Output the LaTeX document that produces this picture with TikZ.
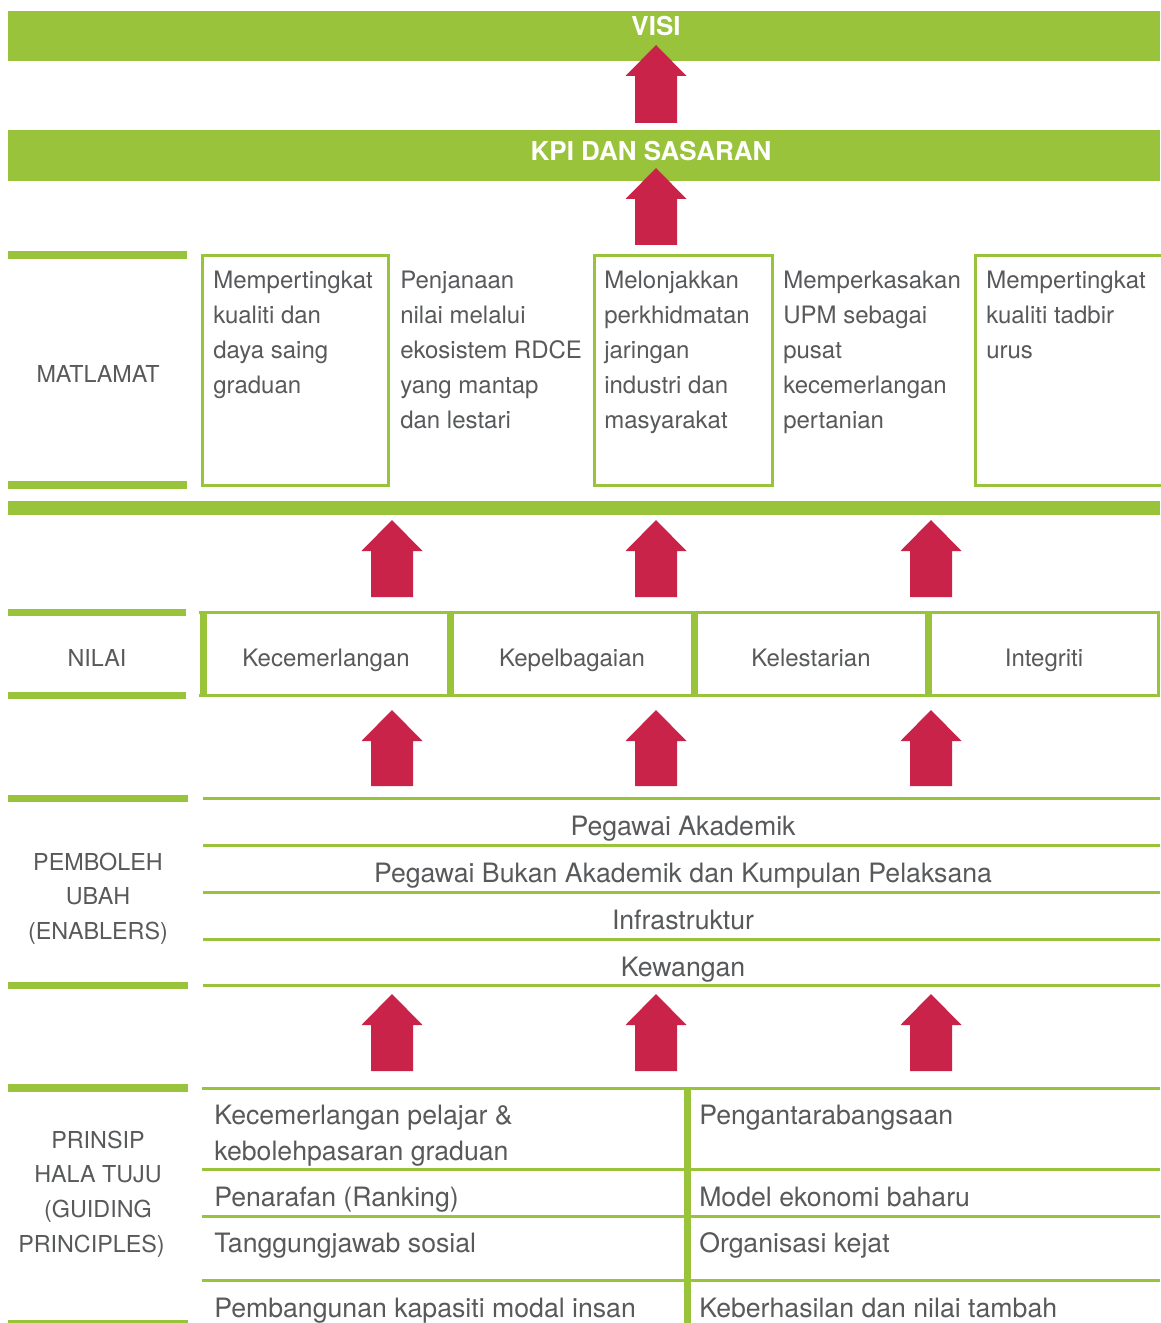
\documentclass[tikz,border=0pt]{standalone}
\usepackage{fontspec}
\setmainfont{TeX Gyre Heros}
\definecolor{lgreen}{HTML}{9AC33C}
\definecolor{tgray}{HTML}{58595B}
\definecolor{ared}{HTML}{C9234A}
\newcommand\blockup[3]{\fill[ared] (#1,#2) -- ++(30.5,31) -- ++(-9.5,0) -- ({#1+21},#3) -- ({#1-21},#3) -- ({#1-21},{#2+31}) -- ++(-9.5,0) -- cycle;}
\begin{document}
\begin{tikzpicture}[x=0.75pt,y=-0.75pt,
  bar/.style={fill=lgreen},
  gline/.style={draw=lgreen,line width=2.25pt},
  gthick/.style={draw=lgreen,line width=5.25pt},
  gbox/.style={draw=lgreen,line width=2.25pt},
  ttl/.style={inner sep=0,anchor=base,text=white,font=\fontsize{19.5}{23}\selectfont\bfseries},
  lbl/.style={inner sep=0,anchor=base,text=tgray,font=\fontsize{17.5}{26}\selectfont},
  lblm/.style={inner sep=0,anchor=north,align=center,text=tgray,font=\fontsize{17.5}{26}\selectfont},
  btxt/.style={inner sep=0,anchor=north west,align=left,text=tgray,font=\fontsize{18}{26.25}\selectfont},
  ntxt/.style={inner sep=0,anchor=base,text=tgray,font=\fontsize{18}{21}\selectfont},
  etxt/.style={inner sep=0,anchor=base,text=tgray,font=\fontsize{20}{24}\selectfont},
  ptxt/.style={inner sep=0,anchor=base west,text=tgray,font=\fontsize{20}{27}\selectfont},
  ptxtm/.style={inner sep=0,anchor=north west,align=left,text=tgray,font=\fontsize{20}{27}\selectfont}]
\useasboundingbox (0,0) rectangle (1160,1323);
\fill[white] (0,0) rectangle (1160,1323);

% top bars
\fill[bar] (8,11) rectangle (1160,61);
\fill[bar] (8,130) rectangle (1160,181);
\node[ttl] (visi) at (656,36) {VISI};
\node[ttl] (kpi) at (651,161) {KPI DAN SASARAN};

% MATLAMAT
\fill[bar] (8,251) rectangle (187,259);
\fill[bar] (8,481) rectangle (187,489);
\node[lbl] (matlamat) at (98,382) {MATLAMAT};
\draw[gbox] (202.5,255.5) rectangle (388.5,485.5);
\draw[gbox] (594,255.5) rectangle (772,485.5);
\draw[gbox] (975.5,255.5) rectangle (1165,485.5);
\node[btxt] (g1) at (213,263.5) {\strut Mempertingkat\\kualiti dan\\daya saing\\graduan};
\node[btxt] (g2) at (400,263.5) {\strut Penjanaan\\nilai melalui\\ekosistem RDCE\\yang mantap\\dan lestari};
\node[btxt] (g3) at (604,263.5) {\strut Melonjakkan\\perkhidmatan\\jaringan\\industri dan\\masyarakat};
\node[btxt] (g4) at (783,263.5) {\strut Memperkasakan\\UPM sebagai\\pusat\\kecemerlangan\\pertanian};
\node[btxt] (g5) at (986,263.5) {\strut Mempertingkat\\kualiti tadbir\\urus};
\fill[bar] (8,501) rectangle (1160,515);

% NILAI
\fill[bar] (8,609) rectangle (186,616);
\fill[bar] (8,692) rectangle (186,699);
\node[lbl] (nilai) at (97,666) {NILAI};
\draw[gline] (199,612.5) -- (1160,612.5);
\draw[gline] (199,695.5) -- (1160,695.5);
\draw[gthick] (203,611) -- (203,697);
\draw[gthick] (450,611) -- (450,697);
\draw[gthick] (694,611) -- (694,697);
\draw[gthick] (928,611) -- (928,697);
\draw[gline] (1158,611) -- (1158,697);
\node[ntxt] (n1) at (326,666) {Kecemerlangan};
\node[ntxt] (n2) at (572,666) {Kepelbagaian};
\node[ntxt] (n3) at (811,666) {Kelestarian};
\node[ntxt] (n4) at (1044,666) {Integriti};

% ENABLERS
\fill[bar] (8,795) rectangle (188,802);
\fill[bar] (8,982) rectangle (188,989);
\node[lblm] (pemboleh) at (98,845.7) {\strut PEMBOLEH\\UBAH\\(ENABLERS)};
\foreach \yy in {798,845,892,939,985} {\draw[gline] (203,\yy) -- (1160,\yy);}
\node[etxt] (e1) at (683,835) {Pegawai Akademik};
\node[etxt] (e2) at (683,882) {Pegawai Bukan Akademik dan Kumpulan Pelaksana};
\node[etxt] (e3) at (683,929) {Infrastruktur};
\node[etxt] (e4) at (683,976) {Kewangan};

% PRINSIP
\fill[bar] (8,1084) rectangle (188,1092);
\fill[bar] (8,1320) rectangle (188,1323);
\node[lblm] (prinsip) at (98,1123.7) {\strut PRINSIP\\HALA TUJU\\(GUIDING\\PRINCIPLES)\hspace*{9.75pt}};
\foreach \yy in {1088,1169,1216,1280} {\draw[gline] (202,\yy) -- (1160,\yy);}
\draw[gthick] (687.5,1088) -- (687.5,1323);
\node[ptxtm] (p1) at (214,1098.8) {\strut Kecemerlangan pelajar \&\\kebolehpasaran graduan};
\node[ptxt] (p2) at (214,1206) {Penarafan (Ranking)};
\node[ptxt] (p3) at (214,1252) {Tanggungjawab sosial};
\node[ptxt] (p4) at (214,1317) {Pembangunan kapasiti modal insan};
\node[ptxt] (q1) at (699,1124) {Pengantarabangsaan};
\node[ptxt] (q2) at (699,1206) {Model ekonomi baharu};
\node[ptxt] (q3) at (699,1252) {Organisasi kejat};
\node[ptxt] (q4) at (699,1317) {Keberhasilan dan nilai tambah};

% arrows
\blockup{656}{45}{123}
\blockup{656}{168}{245}
\foreach \cx in {392,656,931} {
  \blockup{\cx}{520}{597}
  \blockup{\cx}{710}{786}
  \blockup{\cx}{994}{1071}
}
\end{tikzpicture}
\end{document}
